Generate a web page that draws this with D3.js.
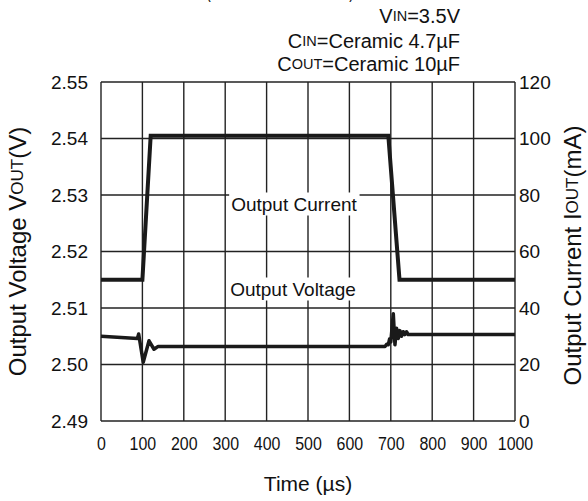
<!DOCTYPE html>
<html><head><meta charset="utf-8">
<script src="https://cdn.jsdelivr.net/npm/d3@7"></script>
<style>
html,body{margin:0;padding:0;background:#fff;}
svg{display:block;font-family:"Liberation Sans",Arial,Helvetica,sans-serif;}
</style></head>
<body><svg id="c" width="588" height="501"></svg>
<script>
// ---- data ----
const timeTicks = [0,100,200,300,400,500,600,700,800,900,1000];
const voltTicks = [2.49,2.50,2.51,2.52,2.53,2.54,2.55];
const currTicks = [0,20,40,60,80,100,120];
const currentTime = [0,100,120,694,721,1000];
const currentVals = [50,50,101,101,50,50];
const voltageTime = [0,88,91,102,116,128,138,686,690,694,697,700,706,710,714,718,722,726,730,734,738,742,1000];
const voltageVals = [2.5050,2.5046,2.5054,2.5004,2.5042,2.5027,2.5032,2.5032,2.5036,2.5035,2.5045,2.5040,2.5090,2.5035,2.5064,2.5046,2.5060,2.5050,2.5058,2.5053,2.5058,2.5053,2.5053];
const conditions = ["V|IN|=3.5V","C|IN|=Ceramic 4.7µF","C|OUT|=Ceramic 10µF"];

const L=101,R=515,T=82,B=421;
const svg=d3.select("#c");
const x=d3.scaleLinear().domain([0,1000]).range([L,R]);
const yV=d3.scaleLinear().domain([2.49,2.55]).range([B,T]);
const yI=d3.scaleLinear().domain([0,120]).range([B,T]);

// partially visible title (clipped at the top edge as in the reference)
svg.append("text").attr("x",206).attr("y",-2).attr("textLength",148).attr("lengthAdjust","spacingAndGlyphs")
  .attr("font-size",20).attr("fill","#111").text("(IOUT=50mA→100mA)");

// grid
const g=svg.append("g");
g.selectAll("line.v").data(timeTicks).join("line")
  .attr("x1",d=>x(d)).attr("x2",d=>x(d)).attr("y1",T).attr("y2",B)
  .attr("stroke","#222").attr("stroke-width",1.4);
g.selectAll("line.h").data(voltTicks).join("line")
  .attr("x1",L).attr("x2",R).attr("y1",d=>yV(d)).attr("y2",d=>yV(d))
  .attr("stroke","#222").attr("stroke-width",1.4);

// axes tick labels
const axL=d3.axisLeft(yV).tickValues(voltTicks).tickFormat(d3.format(".2f")).tickSize(0).tickPadding(13);
const gl=svg.append("g").attr("transform",`translate(${L},0)`).call(axL);
gl.select(".domain").remove();
gl.selectAll("text").attr("font-size",19).attr("fill","#111").attr("font-family","Liberation Sans, Arial");

const axR=d3.axisRight(yI).tickValues(currTicks).tickFormat(d3.format("d")).tickSize(0).tickPadding(4);
const gr=svg.append("g").attr("transform",`translate(${R},0)`).call(axR);
gr.select(".domain").remove();
gr.selectAll("text").attr("font-size",19).attr("fill","#111").attr("font-family","Liberation Sans, Arial");

const axB=d3.axisBottom(x).tickValues(timeTicks).tickFormat(d3.format("d")).tickSize(0).tickPadding(0);
const gb=svg.append("g").attr("transform",`translate(0,${B})`).call(axB);
gb.select(".domain").remove();
gb.selectAll(".tick text").attr("font-size",19).attr("fill","#111").attr("font-family","Liberation Sans, Arial")
  .attr("y",0).attr("dy",0).attr("transform","translate(0,29) scale(0.84,1)");

// lines
const lineI=d3.line().x((d,i)=>x(currentTime[i])).y(d=>yI(d));
svg.append("path").attr("d",lineI(currentVals)).attr("fill","none")
  .attr("stroke","#1a1a1a").attr("stroke-width",4).attr("stroke-linejoin","miter");
const lineV=d3.line().x((d,i)=>x(voltageTime[i])).y(d=>yV(d));
svg.append("path").attr("d",lineV(voltageVals)).attr("fill","none")
  .attr("stroke","#1a1a1a").attr("stroke-width",3.5).attr("stroke-linejoin","round");

// in-plot labels with white background
function label(txt,cx,cy){
  const t=svg.append("text").attr("x",cx).attr("y",cy).attr("text-anchor","middle")
    .attr("dominant-baseline","central").attr("font-size",19).attr("fill","#111").text(txt);
  const bb=t.node().getBBox();
  svg.insert("rect",()=>t.node()).attr("x",bb.x-2).attr("y",bb.y-1).attr("width",bb.width+4).attr("height",bb.height+2).attr("fill","#fff");
}
label("Output Current",294,204);
label("Output Voltage",293,289);

// conditions (right aligned), with small-caps subscripts
const condY=[16,41,64];
conditions.forEach((c,i)=>{
  const p=c.split("|");
  const t=svg.append("text").attr("x",460).attr("y",condY[i]).attr("text-anchor","end")
    .attr("dominant-baseline","central").attr("font-size",20).attr("fill","#111");
  t.append("tspan").text(p[0]);
  t.append("tspan").attr("font-size",14.5).text(p[1]);
  t.append("tspan").text(p[2]);
});

// axis titles
const tl=svg.append("text").attr("transform",`translate(17,${(T+B)/2}) rotate(-90)`).attr("text-anchor","middle")
  .attr("dominant-baseline","central").attr("font-size",24).attr("fill","#111");
tl.append("tspan").text("Output Voltage V");
tl.append("tspan").attr("font-size",17).text("OUT");
tl.append("tspan").text("(V)");

const tr=svg.append("text").attr("transform",`translate(572,${(T+B)/2+4}) rotate(-90)`).attr("text-anchor","middle")
  .attr("dominant-baseline","central").attr("font-size",24).attr("fill","#111");
tr.append("tspan").text("Output Current I");
tr.append("tspan").attr("font-size",17).text("OUT");
tr.append("tspan").text("(mA)");

svg.append("text").attr("x",(L+R)/2).attr("y",483).attr("text-anchor","middle")
  .attr("dominant-baseline","central").attr("font-size",21).attr("fill","#111").text("Time (µs)");
</script></body></html>
